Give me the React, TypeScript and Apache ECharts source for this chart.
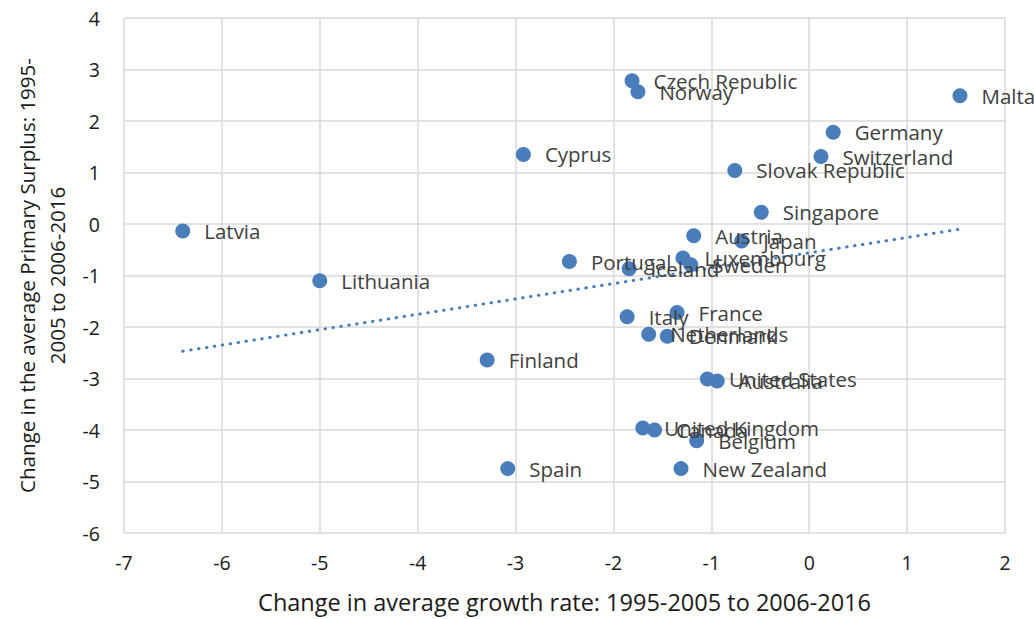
import React, { useEffect, useRef } from "react";
import * as echarts from "echarts";

const countries = [
  "Czech Republic", "Norway", "Malta", "Germany", "Switzerland", "Cyprus",
  "Slovak Republic", "Singapore", "Latvia", "Austria", "Japan", "Luxembourg",
  "Sweden", "Portugal", "Iceland", "Lithuania", "Italy", "France",
  "Netherlands", "Denmark", "Finland", "United States", "Australia",
  "United Kingdom", "Canada", "Belgium", "Spain", "New Zealand",
];
const growthChange = [
  -1.81, -1.75, 1.54, 0.245, 0.12, -2.92,
  -0.76, -0.49, -6.40, -1.18, -0.69, -1.29,
  -1.21, -2.45, -1.84, -5.0, -1.86, -1.35,
  -1.64, -1.45, -3.29, -1.04, -0.94,
  -1.70, -1.58, -1.15, -3.08, -1.31,
];
const surplusChange = [
  2.78, 2.57, 2.49, 1.78, 1.31, 1.35,
  1.04, 0.23, -0.135, -0.23, -0.33, -0.66,
  -0.79, -0.73, -0.87, -1.10, -1.80, -1.72,
  -2.14, -2.18, -2.64, -3.01, -3.05,
  -3.96, -4.0, -4.21, -4.75, -4.75,
];
const trendX = [-6.4, 1.54];
const trendY = [-2.47, -0.1];

const xTitle = "Change in average growth rate: 1995-2005 to 2006-2016";
const yTitle = "Change in the average Primary Surplus: 1995-\n2005 to 2006-2016";

const FONT = "Open Sans";
const TEXT = "#404040";
const DARK = "#1a1a1a";
const BLUE = "#4a7ebb";
const GRID = "#d9d9d9";

export default function App() {
  const ref = useRef<HTMLDivElement>(null);
  useEffect(() => {
    if (!ref.current) return;
    const chart = echarts.init(ref.current, null, { renderer: "svg" });
    const pts = countries.map((c, i) => [growthChange[i], surplusChange[i], c]);
    const trend = trendX.map((x, i) => [x, trendY[i]]);
    chart.setOption({
      animation: false,
      textStyle: { fontFamily: FONT },
      grid: { left: 124, right: 29, top: 18, bottom: 83, containLabel: false },
      xAxis: {
        type: "value",
        min: -7,
        max: 2,
        interval: 1,
        name: xTitle,
        nameLocation: "middle",
        nameGap: 57,
        nameTextStyle: { fontSize: 23.5, color: DARK, fontFamily: FONT },
        axisLine: { show: false },
        axisTick: { show: false },
        axisLabel: { fontSize: 19.5, color: DARK, margin: 19, fontFamily: FONT },
        splitLine: { show: true, lineStyle: { color: GRID, width: 1.5 } },
      },
      yAxis: {
        type: "value",
        min: -6,
        max: 4,
        interval: 1,
        name: yTitle,
        nameLocation: "middle",
        nameRotate: 90,
        nameGap: 49,
        nameTextStyle: { fontSize: 20.5, color: DARK, fontFamily: FONT, lineHeight: 30, align: "center" },
        axisLine: { show: false },
        axisTick: { show: false },
        axisLabel: { fontSize: 19.5, color: DARK, margin: 24, fontFamily: FONT },
        splitLine: { show: true, lineStyle: { color: GRID, width: 1.5 } },
      },
      series: [
        {
          type: "line",
          data: trend,
          symbol: "none",
          lineStyle: { color: BLUE, width: 3, type: [0.5, 7.5], cap: "round" },
          z: 1,
        },
        {
          type: "scatter",
          data: pts,
          symbolSize: 15,
          itemStyle: { color: BLUE, opacity: 1 },
          label: {
            show: true,
            position: "right",
            distance: 14,
            formatter: (p: any) => p.data[2],
            fontSize: 20.5,
            color: TEXT,
            fontFamily: FONT,
          },
          labelLayout: { hideOverlap: false },
          z: 2,
        },
      ],
    });
    return () => chart.dispose();
  }, []);
  return (
    <div
      ref={ref}
      style={{ position: "absolute", left: 0, top: 0, width: 1034, height: 619, background: "#fff" }}
    />
  );
}
